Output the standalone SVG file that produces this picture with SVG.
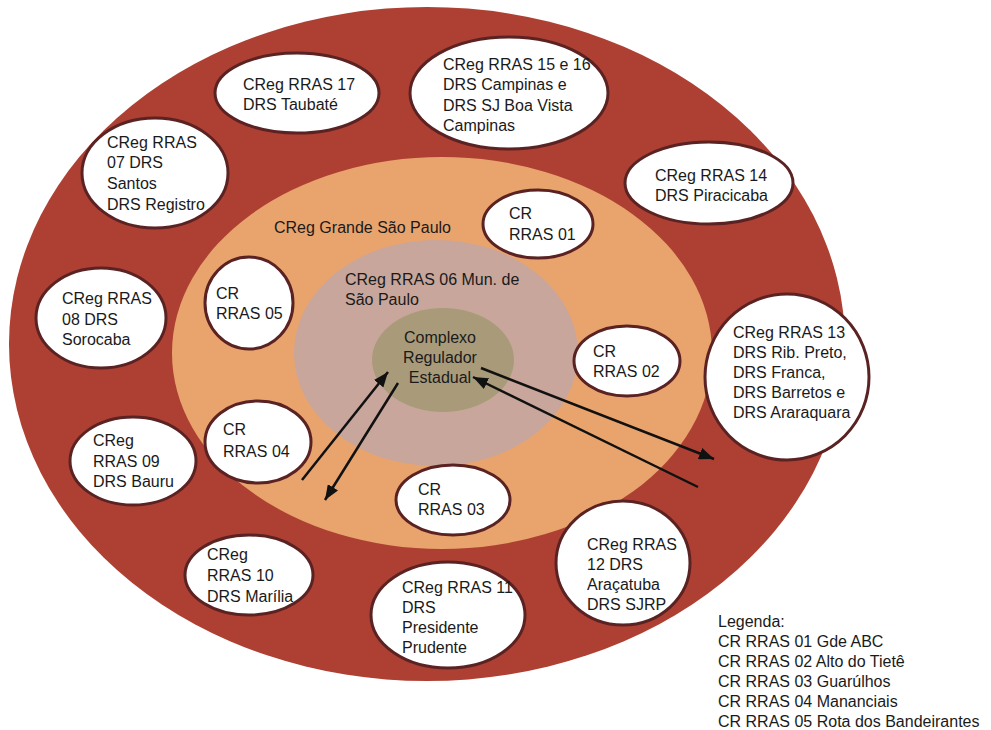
<svg xmlns="http://www.w3.org/2000/svg" width="991" height="730" viewBox="0 0 991 730">
<style>
text{font-family:"Liberation Sans",Arial,sans-serif;font-size:16px;fill:#1a1a1a}
.n{fill:#ffffff;stroke:#5a2222;stroke-width:3}
.c{stroke:#111;stroke-width:2.5;fill:none;marker-end:url(#ah)}
</style>
<defs>
<marker id="ah" markerUnits="userSpaceOnUse" markerWidth="15" markerHeight="12" viewBox="0 0 15 12" refX="15" refY="6" orient="auto">
<path d="M0,0 L15,6 L0,12 z" fill="#111"/>
</marker>
</defs>
<rect width="991" height="730" fill="#ffffff"/>
<g id="regions">
<ellipse cx="427" cy="344" rx="418" ry="337" fill="#ad4032"/>
<ellipse cx="442" cy="353" rx="270" ry="196" fill="#e9a46e"/>
<ellipse cx="436" cy="353" rx="142" ry="113" fill="#c8a69b"/>
<ellipse cx="443" cy="360" rx="71" ry="52" fill="#a99b7a"/>
<text x="274" y="233">CReg Grande São Paulo</text>
<text x="345" y="285">CReg RRAS 06 Mun. de</text>
<text x="345" y="305">São Paulo</text>
</g>
<g id="center">
<text x="440" y="343" text-anchor="middle">Complexo</text>
<text x="440" y="363" text-anchor="middle">Regulador</text>
<text x="440" y="383" text-anchor="middle">Estadual</text>
</g>
<g id="rras17"><ellipse class="n" cx="297" cy="93" rx="82" ry="40"/><text x="243" y="90">CReg RRAS 17</text><text x="243" y="110">DRS Taubaté</text></g>
<g id="rras15"><ellipse class="n" cx="509" cy="93" rx="99" ry="56"/><text x="443" y="70">CReg RRAS 15 e 16</text><text x="443" y="90">DRS Campinas e</text><text x="443" y="111">DRS SJ Boa Vista</text><text x="443" y="131">Campinas</text></g>
<g id="rras14"><ellipse class="n" cx="709" cy="183" rx="84" ry="41"/><text x="655" y="181">CReg RRAS 14</text><text x="655" y="201">DRS Piracicaba</text></g>
<g id="rras07"><ellipse class="n" cx="155" cy="173" rx="73" ry="55"/><text x="107" y="148">CReg RRAS</text><text x="107" y="168">07 DRS</text><text x="107" y="189">Santos</text><text x="107" y="210">DRS Registro</text></g>
<g id="rras08"><ellipse class="n" cx="101" cy="318" rx="65" ry="50"/><text x="62" y="304">CReg RRAS</text><text x="62" y="325">08 DRS</text><text x="62" y="345">Sorocaba</text></g>
<g id="rras09"><ellipse class="n" cx="133" cy="461" rx="63" ry="44"/><text x="93" y="446">CReg</text><text x="93" y="467">RRAS 09</text><text x="93" y="487">DRS Bauru</text></g>
<g id="rras10"><ellipse class="n" cx="249" cy="575" rx="64" ry="40"/><text x="207" y="560">CReg</text><text x="207" y="581">RRAS 10</text><text x="207" y="602">DRS Marília</text></g>
<g id="rras11"><ellipse class="n" cx="448" cy="615" rx="77" ry="53"/><text x="402" y="593">CReg RRAS 11</text><text x="402" y="613">DRS</text><text x="402" y="633">Presidente</text><text x="402" y="653">Prudente</text></g>
<g id="rras12"><ellipse class="n" cx="623" cy="563" rx="67" ry="62"/><text x="587" y="550">CReg RRAS</text><text x="587" y="570">12 DRS</text><text x="587" y="590">Araçatuba</text><text x="587" y="610">DRS SJRP</text></g>
<g id="rras13"><ellipse class="n" cx="787" cy="377" rx="82" ry="83"/><text x="733" y="338">CReg RRAS 13</text><text x="733" y="358">DRS Rib. Preto,</text><text x="733" y="378">DRS Franca,</text><text x="733" y="398">DRS Barretos e</text><text x="733" y="418">DRS Araraquara</text></g>
<g id="cr01"><ellipse class="n" cx="538" cy="224" rx="55" ry="34"/><text x="509" y="219">CR</text><text x="509" y="240">RRAS 01</text></g>
<g id="cr02"><ellipse class="n" cx="627" cy="361" rx="53" ry="35"/><text x="593" y="357">CR</text><text x="593" y="377">RRAS 02</text></g>
<g id="cr03"><ellipse class="n" cx="453" cy="500" rx="57" ry="35"/><text x="418" y="495">CR</text><text x="418" y="515">RRAS 03</text></g>
<g id="cr04"><ellipse class="n" cx="258" cy="442" rx="53" ry="41"/><text x="223" y="435">CR</text><text x="223" y="457">RRAS 04</text></g>
<g id="cr05"><ellipse class="n" cx="249" cy="303" rx="44" ry="46"/><text x="216" y="299">CR</text><text x="216" y="319">RRAS 05</text></g>
<g id="connectors">
<line class="c" x1="302" y1="480" x2="388" y2="372"/>
<line class="c" x1="398" y1="383" x2="325" y2="500"/>
<line class="c" x1="481" y1="368" x2="714" y2="459"/>
<line class="c" x1="698" y1="487" x2="473" y2="377"/>
</g>
<g id="legend">
<text x="718" y="627">Legenda:</text>
<text x="718" y="647">CR RRAS 01 Gde ABC</text>
<text x="718" y="667">CR RRAS 02 Alto do Tietê</text>
<text x="718" y="687">CR RRAS 03 Guarúlhos</text>
<text x="718" y="707">CR RRAS 04 Mananciais</text>
<text x="718" y="727">CR RRAS 05 Rota dos Bandeirantes</text>
</g>
</svg>
